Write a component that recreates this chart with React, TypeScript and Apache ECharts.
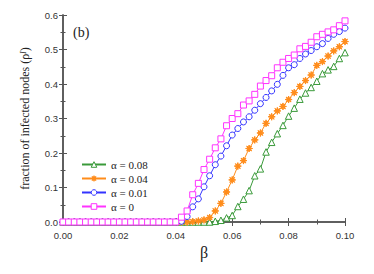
import React, { useEffect, useRef } from "react";
import * as echarts from "echarts";

const betas = [
  0.000, 0.002, 0.004, 0.006, 0.008, 0.010, 0.012, 0.014, 0.016, 0.018,
  0.020, 0.022, 0.024, 0.026, 0.028, 0.030, 0.032, 0.034, 0.036, 0.038,
  0.040, 0.042, 0.044, 0.046, 0.048, 0.050, 0.052, 0.054, 0.056, 0.058,
  0.060, 0.062, 0.064, 0.066, 0.068, 0.070, 0.072, 0.074, 0.076, 0.078,
  0.080, 0.082, 0.084, 0.086, 0.088, 0.090, 0.092, 0.094, 0.096, 0.098,
  0.100,
];

const alpha008 = [
  0, 0, 0, 0, 0, 0, 0, 0, 0, 0,
  0, 0, 0, 0, 0, 0, 0, 0, 0, 0,
  0, 0, 0, 0, 0, 0, 0, 0.002, 0.005, 0.012,
  0.019, 0.045, 0.066, 0.091, 0.134, 0.154, 0.203, 0.231, 0.256, 0.280,
  0.307, 0.330, 0.356, 0.374, 0.390, 0.408, 0.430, 0.441, 0.451, 0.474,
  0.491,
];

const alpha004 = [
  0, 0, 0, 0, 0, 0, 0, 0, 0, 0,
  0, 0, 0, 0, 0, 0, 0, 0, 0, 0,
  0, 0, 0, 0.001, 0.003, 0.006, 0.013, 0.032, 0.054, 0.087,
  0.122, 0.162, 0.178, 0.213, 0.238, 0.258, 0.286, 0.305, 0.322, 0.335,
  0.355, 0.375, 0.393, 0.410, 0.426, 0.454, 0.465, 0.481, 0.496, 0.508,
  0.523,
];

const alpha001 = [
  0, 0, 0, 0, 0, 0, 0, 0, 0, 0,
  0, 0, 0, 0, 0, 0, 0, 0, 0, 0,
  0, 0.002, 0.016, 0.044, 0.067, 0.102, 0.134, 0.166, 0.191, 0.221,
  0.252, 0.271, 0.290, 0.305, 0.324, 0.343, 0.361, 0.380, 0.399, 0.425,
  0.447, 0.456, 0.474, 0.487, 0.497, 0.508, 0.517, 0.532, 0.544, 0.552,
  0.562,
];

const alpha000 = [
  0, 0, 0, 0, 0, 0, 0, 0, 0, 0,
  0, 0, 0, 0, 0, 0, 0, 0, 0, 0,
  0, 0.014, 0.032, 0.079, 0.112, 0.152, 0.182, 0.215, 0.241, 0.279,
  0.300, 0.314, 0.339, 0.351, 0.370, 0.394, 0.410, 0.424, 0.447, 0.463,
  0.474, 0.484, 0.502, 0.509, 0.521, 0.537, 0.544, 0.551, 0.557, 0.569,
  0.583,
];

const seriesNames = ["α = 0.08", "α = 0.04", "α = 0.01", "α = 0"];
const seriesColors = ["#3a9a3a", "#ff8c1a", "#3333ff", "#ff33ff"];

const STAR =
  "path://M20,10 L13.7,11.53 L17.07,17.07 L11.53,13.7 L10,20 L8.47,13.7 L2.93,17.07 L6.3,11.53 L0,10 L6.3,8.47 L2.93,2.93 L8.47,6.3 L10,0 L11.53,6.3 L17.07,2.93 L13.7,8.47 Z";

export default function App() {
  const ref = useRef<HTMLDivElement>(null);
  useEffect(() => {
    if (!ref.current) return;
    const chart = echarts.init(ref.current, undefined, { renderer: "svg" });
    const values = [alpha008, alpha004, alpha001, alpha000];
    const symbols = ["triangle", STAR, "circle", "rect"];
    const sizes = [6.5, 7, 6, 6];
    const axisColor = "#555";
    const fills = seriesColors.map((c, i) => (i === 1 ? c : "#ffffff"));
    const series = values.map((vals, i) => ({
      name: seriesNames[i],
      type: "line",
      data: betas.map((b, j) => [b, vals[j]]),
      symbol: symbols[i],
      symbolSize: sizes[i],
      showAllSymbol: true,
      lineStyle: { color: seriesColors[i], width: 1 },
      itemStyle: {
        color: fills[i],
        borderColor: seriesColors[i],
        borderWidth: 1,
      },
    }));
    chart.setOption({
      animation: false,
      backgroundColor: "#fff",
      grid: { left: 63, right: 29, top: 15, bottom: 52 },
      legend: {
        orient: "vertical",
        left: 76,
        top: 154,
        itemWidth: 24,
        itemHeight: 7,
        itemGap: 3,
        data: seriesNames.map((n, i) => ({
          name: n,
          itemStyle: { color: fills[i], borderColor: seriesColors[i], borderWidth: 1 },
        })),
        textStyle: { fontFamily: "Liberation Serif", fontSize: 11, color: "#222" },
      },
      graphic: [
        {
          type: "text",
          left: 73,
          top: 25,
          style: { text: "(b)", font: "14px 'Liberation Serif'", fill: "#222" },
        },
      ],
      xAxis: [
        {
          type: "value",
          min: 0,
          max: 0.1,
          interval: 0.02,
          name: "β",
          nameLocation: "middle",
          nameGap: 19,
          nameTextStyle: { fontFamily: "Liberation Serif", fontSize: 16, color: "#222" },
          axisLine: { show: true, lineStyle: { color: axisColor, width: 1.5 } },
          axisTick: { inside: true, length: 4, lineStyle: { color: axisColor, width: 1 } },
          minorTick: { show: true, splitNumber: 2, length: 2.5, lineStyle: { color: axisColor } },
          splitLine: { show: false },
          axisLabel: {
            formatter: (v: number) => v.toFixed(2),
            fontFamily: "Liberation Sans",
            fontSize: 9.5,
            color: "#333",
            margin: 8,
          },
        },
        {
          type: "value",
          position: "top",
          min: 0,
          max: 0.1,
          interval: 0.02,
          axisLine: { show: true, lineStyle: { color: axisColor, width: 1.5 } },
          axisTick: { inside: true, length: 4, lineStyle: { color: axisColor, width: 1 } },
          minorTick: { show: true, splitNumber: 2, length: 2.5, lineStyle: { color: axisColor } },
          splitLine: { show: false },
          axisLabel: { show: false },
        },
      ],
      yAxis: [
        {
          type: "value",
          min: 0,
          max: 0.6,
          interval: 0.1,
          name: "{t|fraction of infected nodes (ρ}{s|I}{t|)}",
          nameLocation: "middle",
          nameGap: 32,
          nameTextStyle: {
            rich: {
              t: { fontFamily: "Liberation Serif", fontSize: 12, color: "#222" },
              s: { fontFamily: "Liberation Serif", fontSize: 8, color: "#222", verticalAlign: "top", fontStyle: "italic" },
            },
          },
          axisLine: { show: true, lineStyle: { color: axisColor, width: 1.5 } },
          axisTick: { inside: true, length: 4, lineStyle: { color: axisColor, width: 1 } },
          minorTick: { show: true, splitNumber: 2, length: 2.5, lineStyle: { color: axisColor } },
          splitLine: { show: false },
          axisLabel: {
            formatter: (v: number) => v.toFixed(1),
            fontFamily: "Liberation Sans",
            fontSize: 9.5,
            color: "#333",
            margin: 5,
          },
        },
        {
          type: "value",
          position: "right",
          min: 0,
          max: 0.6,
          interval: 0.1,
          axisLine: { show: true, lineStyle: { color: axisColor, width: 1.5 } },
          axisTick: { inside: true, length: 4, lineStyle: { color: axisColor, width: 1 } },
          minorTick: { show: true, splitNumber: 2, length: 2.5, lineStyle: { color: axisColor } },
          splitLine: { show: false },
          axisLabel: { show: false },
        },
      ],
      series,
    });
    return () => chart.dispose();
  }, []);
  return <div ref={ref} style={{ width: 374, height: 274, position: "absolute", left: 0, top: 0 }} />;
}
